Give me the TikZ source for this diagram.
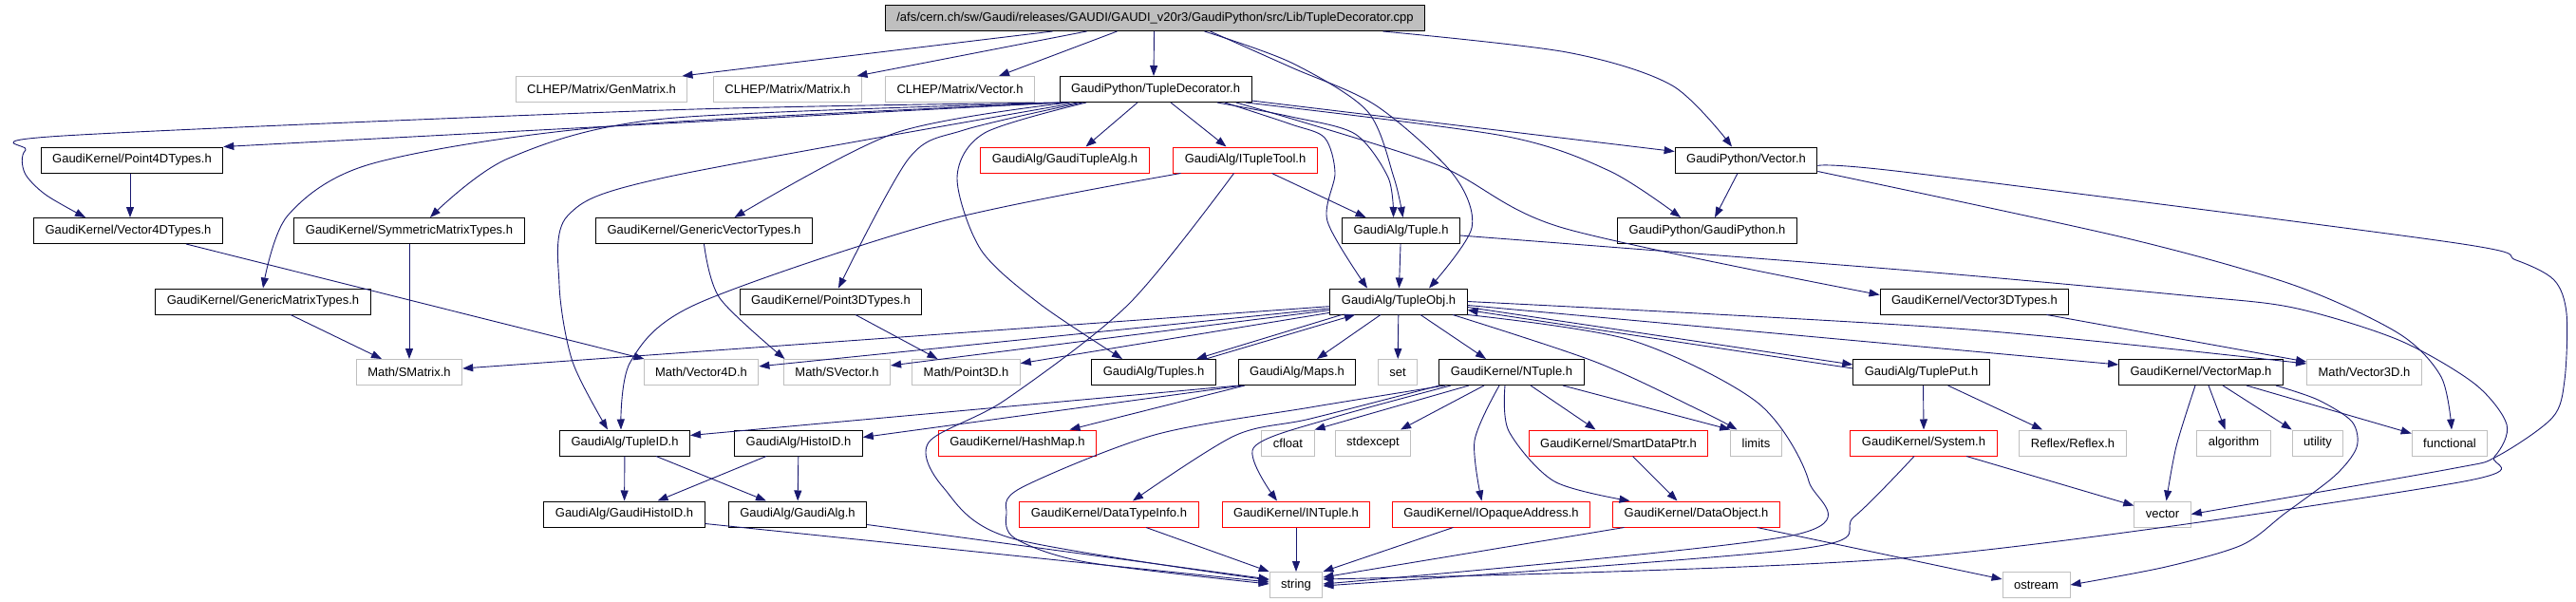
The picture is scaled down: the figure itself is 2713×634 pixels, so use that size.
\documentclass[tikz,border=0pt]{standalone}
\usepackage{fontspec}
\setmainfont{Liberation Sans}
\usepackage{xcolor}
\usetikzlibrary{arrows.meta}
\definecolor{edgeblue}{HTML}{191970}
\definecolor{extgray}{HTML}{BFBFBF}

\begin{document}
\begin{tikzpicture}[
    x=1pt, y=-1pt,
    hdr/.style={draw=#1, line width=1pt, minimum height=27pt,
                inner xsep=12pt, inner ysep=0pt,
                font=\fontsize{13}{15}\selectfont},
    hdr/.default=black,
    doc/.style={hdr=black},
    trunc/.style={hdr=red},
    ext/.style={hdr=extgray},
    src/.style={hdr=black, fill=extgray},
    dep/.style={-{Triangle[length=11pt,width=8pt]}, draw=edgeblue, line width=0.9pt},
  ]
  \useasboundingbox (0,0) rectangle (2713,634);

  % headers, one row per level
  \node[src] (root) at (1216.5,19) {/afs/cern.ch/sw/Gaudi/releases/GAUDI/GAUDI\_v20r3/GaudiPython/src/Lib/TupleDecorator.cpp};

  \node[ext] (gm) at (633.5,94) {CLHEP/Matrix/GenMatrix.h};
  \node[ext] (mat) at (829.5,94) {CLHEP/Matrix/Matrix.h};
  \node[ext] (cvec) at (1011,94) {CLHEP/Matrix/Vector.h};
  \node[doc] (tdh) at (1217,94) {GaudiPython/TupleDecorator.h};

  \node[doc] (p4d) at (139,168.5) {GaudiKernel/Point4DTypes.h};
  \node[trunc] (gta) at (1121.5,168.5) {GaudiAlg/GaudiTupleAlg.h};
  \node[trunc] (itt) at (1311.5,168.5) {GaudiAlg/ITupleTool.h};
  \node[doc] (gpv) at (1839,168.5) {GaudiPython/Vector.h};

  \node[doc] (v4d) at (135,243) {GaudiKernel/Vector4DTypes.h};
  \node[doc] (smt) at (431,243) {GaudiKernel/SymmetricMatrixTypes.h};
  \node[doc] (gvt) at (741.5,243) {GaudiKernel/GenericVectorTypes.h};
  \node[doc] (tup) at (1475.5,243) {GaudiAlg/Tuple.h};
  \node[doc] (gpy) at (1798,243) {GaudiPython/GaudiPython.h};

  \node[doc] (gmt) at (277,317.5) {GaudiKernel/GenericMatrixTypes.h};
  \node[doc] (p3dt) at (875,317.5) {GaudiKernel/Point3DTypes.h};
  \node[doc] (tobj) at (1473,317.5) {GaudiAlg/TupleObj.h};
  \node[doc] (v3dt) at (2079.5,317.5) {GaudiKernel/Vector3DTypes.h};

  \node[ext] (smx) at (431,392) {Math/SMatrix.h};
  \node[ext] (mv4) at (738.5,392) {Math/Vector4D.h};
  \node[ext] (msv) at (881.5,392) {Math/SVector.h};
  \node[ext] (mp3) at (1017.5,392) {Math/Point3D.h};
  \node[doc] (tpls) at (1215,392) {GaudiAlg/Tuples.h};
  \node[doc] (maps) at (1366,392) {GaudiAlg/Maps.h};
  \node[ext] (stdset) at (1472,392) {set};
  \node[doc] (ntup) at (1592,392) {GaudiKernel/NTuple.h};
  \node[doc] (tput) at (2023.5,392) {GaudiAlg/TuplePut.h};
  \node[doc] (vmap) at (2318,392) {GaudiKernel/VectorMap.h};
  \node[ext] (mv3) at (2490,392) {Math/Vector3D.h};

  \node[doc] (tid) at (658,466.5) {GaudiAlg/TupleID.h};
  \node[doc] (hid) at (841,466.5) {GaudiAlg/HistoID.h};
  \node[trunc] (hmap) at (1071.5,466.5) {GaudiKernel/HashMap.h};
  \node[ext] (cflt) at (1356.5,466.5) {cfloat};
  \node[ext] (sexc) at (1446,466.5) {stdexcept};
  \node[trunc] (sdp) at (1704.5,466.5) {GaudiKernel/SmartDataPtr.h};
  \node[ext] (lim) at (1849.5,466.5) {limits};
  \node[trunc] (sys) at (2026,466.5) {GaudiKernel/System.h};
  \node[ext] (rflx) at (2183,466.5) {Reflex/Reflex.h};
  \node[ext] (algo) at (2352.5,466.5) {algorithm};
  \node[ext] (util) at (2441,466.5) {utility};
  \node[ext] (func) at (2580,466.5) {functional};

  \node[doc] (ghid) at (657.5,541.5) {GaudiAlg/GaudiHistoID.h};
  \node[doc] (galg) at (840,541.5) {GaudiAlg/GaudiAlg.h};
  \node[trunc] (dti) at (1168,541.5) {GaudiKernel/DataTypeInfo.h};
  \node[trunc] (intp) at (1365,541.5) {GaudiKernel/INTuple.h};
  \node[trunc] (ioa) at (1570.5,541.5) {GaudiKernel/IOpaqueAddress.h};
  \node[trunc] (dobj) at (1786.5,541.5) {GaudiKernel/DataObject.h};
  \node[ext] (vect) at (2277.5,541.5) {vector};

  \node[ext] (str) at (1365,616) {string};
  \node[ext] (ostr) at (2144.5,616) {ostream};

  % the .cpp file
  \draw[dep] ([xshift=-108pt]root.south) -- ([xshift=85pt]gm.north);
  \draw[dep] ([xshift=-72pt]root.south) -- ([xshift=73pt]mat.north);
  \draw[dep] ([xshift=-40pt]root.south) -- ([xshift=41pt]cvec.north);
  \draw[dep] ([xshift=-1pt]root.south) -- ([xshift=-2pt]tdh.north);
  \draw[dep] plot[smooth] coordinates {([xshift=52pt]root.south) (1360,66) (1440,117) (1468,187) ([xshift=2pt]tup.north)};
  \draw[dep] plot[smooth] coordinates {([xshift=58pt]root.south) (1360,71) (1449,111) (1530,183) (1550,240) ([xshift=32pt]tobj.north)};
  \draw[dep] plot[smooth] coordinates {([xshift=240pt]root.south) (1650,55) (1761,90) ([xshift=-15pt]gpv.north)};

  % TupleDecorator.h
  \draw[dep] ([xshift=-100pt]tdh.south) -- (p4d.north east);
  \draw[dep] plot[smooth] coordinates {(tdh.south west) (700,116) (67,143) (27,158) (26,182) (48,205) ([xshift=-45pt]v4d.north)};
  \draw[dep] plot[smooth] coordinates {([xshift=-95pt]tdh.south) (643,133) (393,172) (303,227) (gmt.north)};
  \draw[dep] plot[smooth] coordinates {([xshift=-90pt]tdh.south) (700,125) (535,167) ([xshift=22pt]smt.north)};
  \draw[dep] plot[smooth] coordinates {([xshift=-82pt]tdh.south) (700,187) (598,227) (589,300) (603,381) ([xshift=-18pt]tid.north)};
  \draw[dep] plot[smooth] coordinates {([xshift=-91pt]tdh.south) (943,140) ([xshift=32pt]gvt.north)};
  \draw[dep] plot[smooth] coordinates {([xshift=-77pt]tdh.south) (1015,137) (957,167) ([xshift=8pt]p3dt.north)};
  \draw[dep] plot[smooth] coordinates {([xshift=-73pt]tdh.south) (1037,140) (1008,187) (1033,263) (1095,320) ([xshift=-33pt]tpls.north)};
  \draw[dep] ([xshift=-19pt]tdh.south) -- ([xshift=22pt]gta.north);
  \draw[dep] ([xshift=16pt]tdh.south) -- ([xshift=-20pt]itt.north);
  \draw[dep] plot[smooth] coordinates {([xshift=65pt]tdh.south) (1360,123) (1427,141) (1462,187) ([xshift=-8pt]tup.north)};
  \draw[dep] plot[smooth] coordinates {([xshift=73pt]tdh.south) (1360,131) (1395,145) (1406,182) (1398,233) ([xshift=-33pt]tobj.north)};
  \draw[dep] (tdh) -- (gpv);
  \draw[dep] plot[smooth] coordinates {([xshift=95pt]tdh.south) (1583,143) (1695,180) ([xshift=-28pt]gpy.north)};
  \draw[dep] plot[smooth] coordinates {([xshift=85pt]tdh.south) (1512,173) (1646,240) ([yshift=7pt]v3dt.west)};

  % ITupleTool.h
  \draw[dep] ([xshift=28pt]itt.south) -- ([xshift=-37pt]tup.north);
  \draw[dep] plot[smooth] coordinates {([xshift=-68pt]itt.south) (992,233) (734,320) (664,381) ([xshift=-4pt]tid.north)};
  \draw[dep] plot[smooth] coordinates {([xshift=-12pt]itt.south) (1189,320) (1059,421) (978,466) (994,514) (1066,567) ([yshift=5pt]str.west)};

  % GaudiPython/Vector.h
  \draw[dep] ([xshift=-9pt]gpv.south) -- ([xshift=8pt]gpy.north);
  \draw[dep] plot[smooth] coordinates {([yshift=-6pt]gpv.east) (2013,182) (2580,255) (2650,274) (2690,295) (2703,330) (2701,400) (2688,440) (2629,481) (2580,494) (vect.east)};
  \draw[dep] plot[smooth] coordinates {([yshift=-12pt]gpv.east) (2236,250) (2415,300) (2526,351) (2571,397) ([xshift=2pt]func.north)};

  % vector and matrix types
  \draw[dep] ([xshift=-2pt]p4d.south) -- ([xshift=2pt]v4d.north);
  \draw[dep] ([xshift=61pt]v4d.south) -- ([xshift=-60pt]mv4.north);
  \draw[dep] (smt) -- (smx);
  \draw[dep] ([xshift=29pt]gmt.south) -- ([xshift=-29pt]smx.north);
  \draw[dep] plot[smooth] coordinates {(gvt.south) (758,314) ([xshift=-55pt]msv.north)};
  \draw[dep] ([xshift=26pt]p3dt.south) -- ([xshift=-30pt]mp3.north);
  \draw[dep] ([xshift=76pt]v3dt.south) -- ([yshift=11pt]mv3.west);

  % Tuple.h
  \draw[dep] (tup) -- (tobj);
  \draw[dep] plot[smooth] coordinates {([yshift=-5pt]tup.east) (2013,285) (2300,311) (2415,324) (2526,358) (2606,404) (2640,447) (2627,481) (2584,509) (2013,587) ([yshift=6pt]str.east)};

  % TupleObj.h
  \draw[dep] (tobj) -- (smx);
  \draw[dep] (tobj) -- (mv4);
  \draw[dep] (tobj) -- (msv);
  \draw[dep] (tobj) -- (mp3);
  \draw[dep] ([xshift=-60pt]tobj.south) -- ([xshift=45pt]tpls.north);
  \draw[dep] ([xshift=55pt]tpls.north) -- ([xshift=-46pt]tobj.south);
  \draw[dep] ([xshift=-19pt]tobj.south) -- ([xshift=21pt]maps.north);
  \draw[dep] (tobj) -- (stdset);
  \draw[dep] ([xshift=23pt]tobj.south) -- ([xshift=-27pt]ntup.north);
  \draw[dep] plot[smooth] coordinates {([xshift=57pt]tobj.south) (1680,381) (1790,432) ([xshift=-20pt]lim.north)};
  \draw[dep] plot[smooth] coordinates {(tobj.south east) (1717,358) (1851,424) (1905,507) (1887,564) ([yshift=1pt]str.east)};
  \draw[dep] ([yshift=-6pt]tobj.east) -- ([yshift=8pt]tput.west);
  \draw[dep] ([yshift=4pt]tput.west) -- ([yshift=-9pt]tobj.east);
  \draw[dep] ([yshift=-4pt]tobj.east) -- ([yshift=8pt]vmap.west);
  \draw[dep] plot[smooth] coordinates {(tobj.east) (2060,346) ([yshift=9pt]mv3.west)};

  % Maps.h and the histogram ids
  \draw[dep] ([xshift=-61pt]maps.south) -- ([yshift=8pt]tid.east);
  \draw[dep] ([xshift=-57pt]maps.south) -- ([yshift=6pt]hid.east);
  \draw[dep] ([xshift=-55pt]maps.south) -- ([xshift=55pt]hmap.north);
  \draw[dep] (tid) -- (ghid);
  \draw[dep] ([xshift=33pt]tid.south) -- ([xshift=-33pt]galg.north);
  \draw[dep] ([xshift=-34pt]hid.south) -- ([xshift=35pt]ghid.north);
  \draw[dep] (hid) -- (galg);
  \draw[dep] ([yshift=-10pt]ghid.east) -- ([yshift=3pt]str.west);
  \draw[dep] ([yshift=-11pt]galg.east) -- ([yshift=6pt]str.west);

  % NTuple.h
  \draw[dep] plot[smooth] coordinates {([xshift=-76pt]ntup.south) (1380,441) (1300,459) ([xshift=25pt]dti.north)};
  \draw[dep] plot[smooth] coordinates {([xshift=-70pt]ntup.south) (1380,429) (1216,458) (1075,514) (1060,541) (1069,567) (1144,592) ([yshift=1pt]str.west)};
  \draw[dep] plot[smooth] coordinates {([xshift=-64pt]ntup.south) (1400,441) (1320,472) ([xshift=-20pt]intp.north)};
  \draw[dep] ([xshift=-45pt]ntup.south) -- (cflt.north east);
  \draw[dep] ([xshift=-29pt]ntup.south) -- ([xshift=29pt]sexc.north);
  \draw[dep] plot[smooth] coordinates {([xshift=-13pt]ntup.south) (1553,464) ([xshift=-10pt]ioa.north)};
  \draw[dep] plot[smooth] coordinates {([xshift=-7pt]ntup.south) (1589,454) (1637,507) ([xshift=-70pt]dobj.north)};
  \draw[dep] ([xshift=20pt]ntup.south) -- ([xshift=-24pt]sdp.north);
  \draw[dep] ([xshift=54pt]ntup.south) -- (lim.north west);

  % truncated headers
  \draw[dep] ([xshift=15pt]sdp.south) -- ([xshift=-20pt]dobj.north);
  \draw[dep] ([xshift=39pt]dti.south) -- (str.north west);
  \draw[dep] (intp) -- (str);
  \draw[dep] ([xshift=-40pt]ioa.south) -- (str.north east);
  \draw[dep] ([xshift=-76pt]dobj.south) -- ([yshift=8pt]str.east);
  \draw[dep] ([xshift=64pt]dobj.south) -- ([yshift=6pt]ostr.west);

  % TuplePut.h
  \draw[dep] ([xshift=2pt]tput.south) -- (sys.north);
  \draw[dep] ([xshift=28pt]tput.south) -- ([xshift=-32pt]rflx.north);
  \draw[dep] ([xshift=45pt]sys.south) -- ([yshift=9pt]vect.west);
  \draw[dep] plot[smooth] coordinates {([xshift=-10pt]sys.south) (1953,544) (1896,578) ([yshift=-1pt]str.east)};

  % VectorMap.h
  \draw[dep] plot[smooth] coordinates {([xshift=-6pt]vmap.south) (2292,470) ([xshift=4pt]vect.north)};
  \draw[dep] ([xshift=8pt]vmap.south) -- ([xshift=-9pt]algo.north);
  \draw[dep] ([xshift=23pt]vmap.south) -- (util.north west);
  \draw[dep] ([xshift=48pt]vmap.south) -- ([yshift=10pt]func.west);
  \draw[dep] plot[smooth] coordinates {([xshift=79pt]vmap.south) (2441,421) (2477,444) (2482,471) (2459,501) (2406,541) (2361,574) (2281,597) (ostr.east)};
\end{tikzpicture}
\end{document}
